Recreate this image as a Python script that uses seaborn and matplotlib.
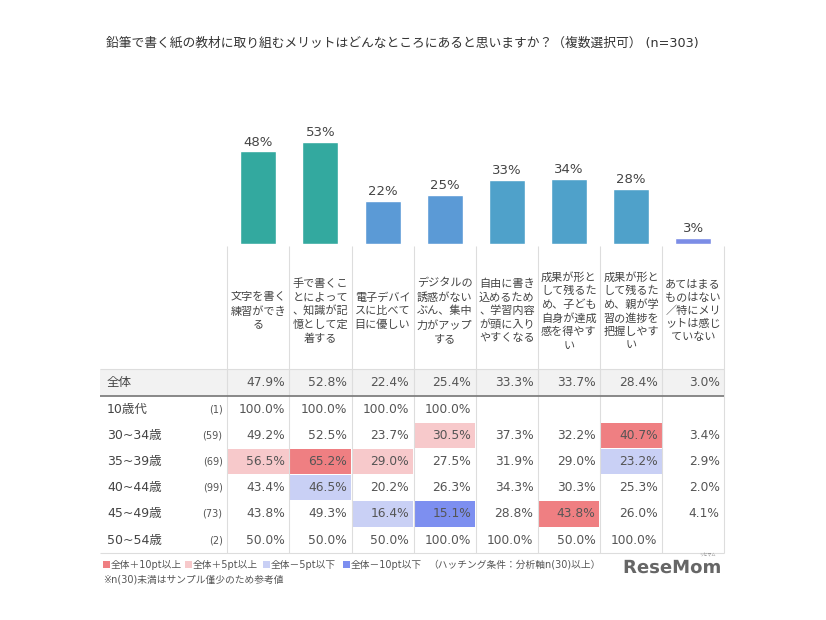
import numpy as np
import pandas as pd
import seaborn as sns
import matplotlib.pyplot as plt
from matplotlib.patches import Rectangle
import matplotlib.patheffects as pe

sns.set_theme(style='white')
plt.rcParams['font.family'] = ['DejaVu Sans', 'Noto Sans CJK JP']

title = '鉛筆で書く紙の教材に取り組むメリットはどんなところにあると思いますか？（複数選択可） (n=303)'

items = [
    '文字を書く\n練習ができ\nる',
    '手で書くこ\nとによって\n、知識が記\n憶として定\n着する',
    '電子デバイ\nスに比べて\n目に優しい',
    'デジタルの\n誘惑がない\nぶん、集中\n力がアップ\nする',
    '自由に書き\n込めるため\n、学習内容\nが頭に入り\nやすくなる',
    '成果が形と\nして残るた\nめ、子ども\n自身が達成\n感を得やす\nい',
    '成果が形と\nして残るた\nめ、親が学\n習の進捗を\n把握しやす\nい',
    'あてはまる\nものはない\n／特にメリ\nットは感じ\nていない',
]
overall = [47.9, 52.8, 22.4, 25.4, 33.3, 33.7, 28.4, 3.0]
bar_colors = ['#33a99f', '#33a99f', '#5b9ad6', '#5b9ad6',
              '#4fa1ca', '#4fa1ca', '#4fa1ca', '#7c8de6']

groups = ['10歳代', '30~34歳', '35~39歳', '40~44歳', '45~49歳', '50~54歳']
group_n = [1, 59, 69, 99, 73, 2]
nan = np.nan
vals_10s = [100.0, 100.0, 100.0, 100.0, nan, nan, nan, nan]
vals_30_34 = [49.2, 52.5, 23.7, 30.5, 37.3, 32.2, 40.7, 3.4]
vals_35_39 = [56.5, 65.2, 29.0, 27.5, 31.9, 29.0, 23.2, 2.9]
vals_40_44 = [43.4, 46.5, 20.2, 26.3, 34.3, 30.3, 25.3, 2.0]
vals_45_49 = [43.8, 49.3, 16.4, 15.1, 28.8, 43.8, 26.0, 4.1]
vals_50_54 = [50.0, 50.0, 50.0, 100.0, 100.0, 50.0, 100.0, nan]
group_vals = [vals_10s, vals_30_34, vals_35_39, vals_40_44, vals_45_49, vals_50_54]

legend_labels = ['全体＋10pt以上', '全体＋5pt以上', '全体－5pt以下', '全体－10pt以下']
legend_colors = ['#ef7f82', '#f7c9cb', '#c9d0f5', '#7d8ff0']
hatch_note = '（ハッチング条件：分析軸n(30)以上）'
foot_note = '※n(30)未満はサンプル僅少のため参考値'

# layout in pixels
W, H = 826, 620
X0, COL_W = 227.3, 62.1
LBL_X0 = 100
BASE_Y = 244
TOT_TOP, TOT_BOT = 369, 396
ROW_H = 26.2
n_cols = len(items)
col_x = X0 + COL_W * np.arange(n_cols + 1)

fig = plt.figure(figsize=(W / 100, H / 100), dpi=100)

# table / text layer in pixel coordinates
ax_t = fig.add_axes([0, 0, 1, 1])
ax_t.set_xlim(0, W)
ax_t.set_ylim(H, 0)
ax_t.axis('off')

# bars
ax_b = fig.add_axes([X0 / W, 1 - BASE_Y / H, COL_W * n_cols / W, 120 / H])
df = pd.DataFrame({'item': items, 'pct': overall})
sns.barplot(data=df, x='item', y='pct', hue='item', order=items, hue_order=items,
            palette=bar_colors, legend=False, width=0.58, saturation=1, ax=ax_b)
ax_b.set_xlim(-0.5, n_cols - 0.5)
ax_b.set_ylim(0, 62)
ax_b.axis('off')
for i, v in enumerate(overall):
    ax_b.annotate(f'{v:.0f}%', (i, v), xytext=(0, 2), textcoords='offset points',
                  ha='center', va='bottom', fontsize=9.5, color='#444444',
                  annotation_clip=False)

ax_t.text(106, 43, title, ha='left', va='center', fontsize=9.2, color='#333333')

# header labels
for j, lab in enumerate(items):
    ax_t.text((col_x[j] + col_x[j + 1]) / 2, 311, lab, ha='center', va='center',
              fontsize=8.0, linespacing=1.38, color='#444444')

# overall row
ax_t.add_patch(Rectangle((LBL_X0, TOT_TOP), col_x[-1] - LBL_X0, TOT_BOT - TOT_TOP,
                         facecolor='#f2f2f2', edgecolor='none', zorder=0))
y_c = (TOT_TOP + TOT_BOT) / 2
ax_t.text(107, y_c, '全体', ha='left', va='center', fontsize=9, color='#444444')
for j, v in enumerate(overall):
    ax_t.text(col_x[j + 1] - 4.5, y_c, f'{v:.1f}%', ha='right', va='center',
              fontsize=8.8, color='#555555')

# group rows
for i, (g, n, vals) in enumerate(zip(groups, group_n, group_vals)):
    top = TOT_BOT + ROW_H * i
    y_c = top + ROW_H / 2
    ax_t.text(107, y_c, g, ha='left', va='center', fontsize=9, color='#444444')
    ax_t.text(222.5, y_c, f'({n})', ha='right', va='center', fontsize=7, color='#555555')
    for j, v in enumerate(vals):
        if np.isnan(v):
            continue
        diff = v - overall[j]
        fc = None
        if n >= 30:
            if diff >= 10:
                fc = legend_colors[0]
            elif diff >= 5:
                fc = legend_colors[1]
            elif diff <= -10:
                fc = legend_colors[3]
            elif diff <= -5:
                fc = legend_colors[2]
        if fc is not None:
            ax_t.add_patch(Rectangle((col_x[j] + 0.5, top + 0.5), COL_W - 1, ROW_H - 1,
                                     facecolor=fc, edgecolor='none', zorder=0))
        ax_t.text(col_x[j + 1] - 4.5, y_c, f'{v:.1f}%', ha='right', va='center',
                  fontsize=8.8, color='#555555')

table_bot = TOT_BOT + ROW_H * len(groups)
ax_t.vlines(col_x, 246, table_bot, color='#dddddd', lw=0.8, zorder=1)
ax_t.hlines([TOT_TOP, table_bot], LBL_X0, col_x[-1], color='#dddddd', lw=0.8, zorder=1)
ax_t.hlines(TOT_BOT, LBL_X0, col_x[-1], color='#7f7f7f', lw=1.3, zorder=2)

# legend
leg_x = [103, 185, 263, 343]
for x, lab, c in zip(leg_x, legend_labels, legend_colors):
    ax_t.add_patch(Rectangle((x, 561), 6.5, 6.5, facecolor=c, edgecolor='none'))
    ax_t.text(x + 8, 564.5, lab, ha='left', va='center', fontsize=7.0, color='#555555')
ax_t.text(428, 564.5, hatch_note, ha='left', va='center', fontsize=7.0, color='#555555')
ax_t.text(103, 579.5, foot_note, ha='left', va='center', fontsize=7.0, color='#555555')

# watermark
ax_t.text(623, 568, 'ReseMom', ha='left', va='center', fontsize=13, fontweight='bold',
          color='#666666', path_effects=[pe.withStroke(linewidth=3, foreground='white')])
ax_t.text(716, 555, 'リセマム', ha='right', va='center', fontsize=3, color='#888888')

fig.savefig('out.png', dpi=100)
